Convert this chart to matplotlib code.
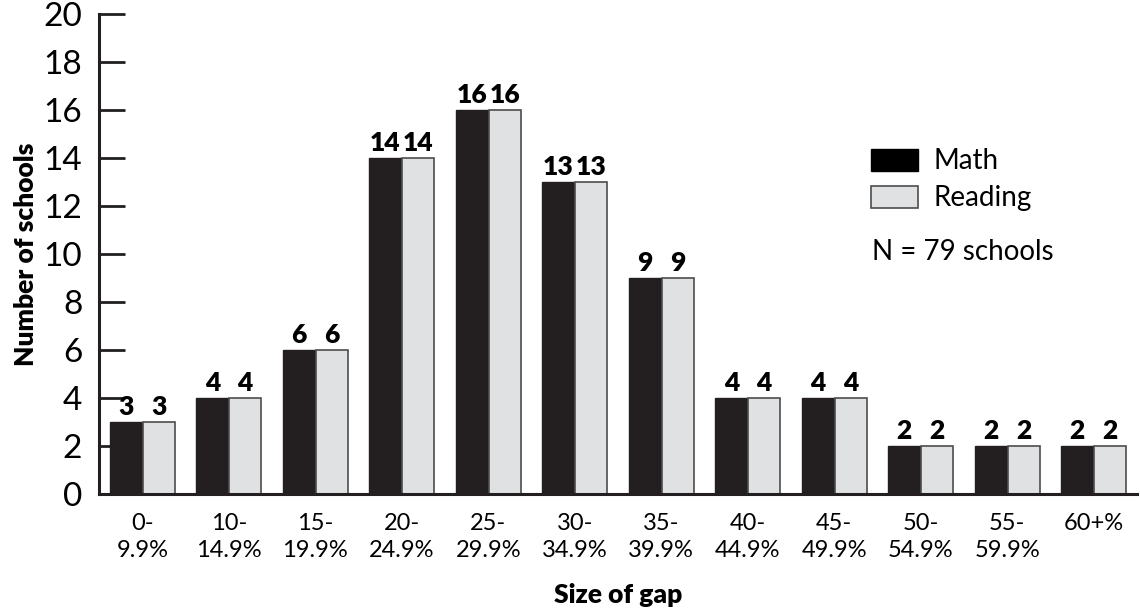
import numpy as np
import matplotlib.pyplot as plt
from matplotlib.patches import Patch

plt.rcParams['font.family'] = ['Lato', 'DejaVu Sans']

gap_labels = ["0-\n9.9%", "10-\n14.9%", "15-\n19.9%", "20-\n24.9%", "25-\n29.9%", "30-\n34.9%",
              "35-\n39.9%", "40-\n44.9%", "45-\n49.9%", "50-\n54.9%", "55-\n59.9%", "60+%"]
math = [3, 4, 6, 14, 16, 13, 9, 4, 4, 2, 2, 2]
reading = [3, 4, 6, 14, 16, 13, 9, 4, 4, 2, 2, 2]

dark = '#231f20'
light = '#e0e1e3'

fig = plt.figure(figsize=(11.4, 6.11), dpi=100)
ax = fig.add_axes([99/1140, 117/611, (1137-99)/1140, (494-14)/611])

x = np.arange(len(gap_labels))
w = 0.37
b1 = ax.bar(x - 0.19, math, w, color=dark, edgecolor=dark, linewidth=1)
b2 = ax.bar(x + 0.19, reading, w, color=light, edgecolor='#4d4d4d', linewidth=1.2)

for bars, vals in [(b1, math), (b2, reading)]:
    for r, v in zip(bars, vals):
        ax.text(r.get_x() + r.get_width()/2, v + 0.12, str(v), ha='center', va='bottom',
                fontsize=19, fontweight='heavy', color='black')

ax.set_xlim(-0.5, 11.5)
ax.set_ylim(0, 20)
ax.set_yticks(range(0, 21, 2))
ax.set_xticks(x)
ax.set_xticklabels(gap_labels, fontsize=17, linespacing=1.3)
ax.tick_params(axis='x', length=0, pad=14)
ax.tick_params(axis='y', direction='in', length=19, width=2, color=dark, labelsize=24, pad=12)

for s in ['top', 'right']:
    ax.spines[s].set_visible(False)
for s in ['left', 'bottom']:
    ax.spines[s].set_linewidth(2.2)
    ax.spines[s].set_color(dark)

ax.set_ylabel('Number of schools', fontsize=19, fontweight='heavy', labelpad=4)
ax.set_xlabel('Size of gap', fontsize=19, fontweight='heavy', labelpad=16)

handles = [Patch(facecolor='black', edgecolor='black', label='Math'),
           Patch(facecolor=light, edgecolor='#4d4d4d', linewidth=1.2, label='Reading')]
fig.legend(handles=handles, loc='upper left', bbox_to_anchor=(849/1140, 1 - 126/611),
           frameon=False, fontsize=20, handlelength=1.7, handleheight=0.85,
           labelspacing=0.4, handletextpad=0.55, borderpad=0.3)
fig.text(872/1140, 1 - 252/611, 'N = 79 schools', fontsize=20, va='center', ha='left')

fig.savefig('out.png', dpi=100)
